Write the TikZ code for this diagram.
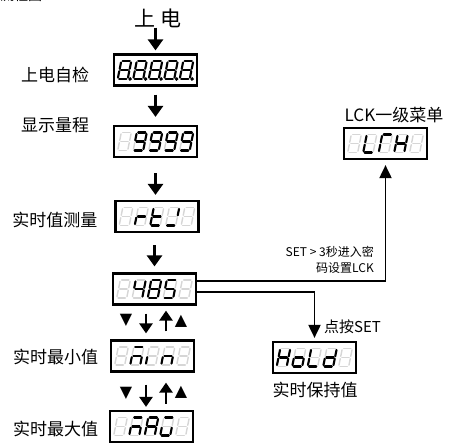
\documentclass[tikz,border=0pt]{standalone}
\usepackage{fontspec}
\setmainfont{Noto Sans CJK SC}
\newfontfamily\symfont{DejaVu Sans}
\usetikzlibrary{arrows.meta,positioning}

\tikzset{
  seg a/.style={insert path={(-3.6,-9) -- (3.6,-9)}},
  seg b/.style={insert path={(5,-7.6) -- (5,-1.2)}},
  seg c/.style={insert path={(5,1.2) -- (5,7.6)}},
  seg d/.style={insert path={(-3.6,9) -- (3.6,9)}},
  seg e/.style={insert path={(-5,1.2) -- (-5,7.6)}},
  seg f/.style={insert path={(-5,-7.6) -- (-5,-1.2)}},
  seg g/.style={insert path={(-3.6,0) -- (3.6,0)}},
  seg p/.style={insert path={(7.4,9) circle (0.5)}},
  seg none/.style={},
  seg/.style={seg #1},
  seg off/.style={draw=black!16, line width=1.4pt, line cap=round},
  seg on/.style={draw=black, line width=2.1pt, line cap=round},
  dispbox/.style={draw, line width=2.2pt, minimum width=83pt, minimum height=31pt, inner sep=0pt},
  steplabel/.style={font=\fontsize{17}{20}\selectfont, inner sep=0pt},
  notelabel/.style={font=\fontsize{12}{16}\selectfont, inner sep=0pt, align=right},
  flow/.style={line width=2.6pt, -{Triangle[width=15pt,length=11pt]}},
  updown/.style={line width=2.5pt, -{Triangle[width=13pt,length=10pt]}},
  link/.style={line width=1.9pt, -{Triangle[width=12pt,length=13pt]}},
  tri/.style={font=\symfont\fontsize{16}{16}\selectfont, inner sep=0pt},
}

% one seven segment digit: node, x offset, lit segments
\newcommand{\segdigit}[3]{%
  \begin{scope}[shift={(#1)}, shift={(#2,0)}, xslant=0.2]
    \foreach \s in {a,b,c,d,e,f,g} \draw[seg off, seg/.expand once=\s];
    \foreach \s in {#3} \draw[seg on, seg/.expand once=\s];
  \end{scope}}
\newcommand{\segrow}[6]{%
  \segdigit{#1}{-31}{#2}\segdigit{#1}{-15.5}{#3}\segdigit{#1}{0}{#4}%
  \segdigit{#1}{15.5}{#5}\segdigit{#1}{31}{#6}}

\begin{document}
\begin{tikzpicture}[x=1pt,y=-1pt]
  \useasboundingbox (0,0) rectangle (450,447);

  % cut off heading
  \node[anchor=base west, inner sep=0pt, font=\fontsize{14}{14}\selectfont] (heading) at (0,1) {流程图：};

  % main column
  \node[font=\fontsize{21}{21}\selectfont, inner sep=0pt] (pwr) at (158,18) {上 电};
  \node[dispbox] (selftest) at (155.5,70) {};
  \node[dispbox] (range) at (155.5,141.5) {};
  \node[dispbox] (rtv) at (157,216.5) {};
  \node[dispbox] (rs485) at (154.5,289) {};
  \node[dispbox] (vmin) at (152.5,356) {};
  \node[dispbox] (vmax) at (151.5,426.5) {};
  \node[dispbox] (lck) at (385.5,143.5) {};
  \node[dispbox] (hold) at (314.5,357.5) {};

  \node[steplabel] (lblselftest) at (55,75) {上电自检};
  \node[steplabel] (lblrange) at (55,125) {显示量程};
  \node[steplabel] (lblrtv) at (55,220) {实时值测量};
  \node[steplabel] (lblmin) at (55.5,357) {实时最小值};
  \node[steplabel] (lblmax) at (55.5,429) {实时最大值};
  \node[steplabel] (lbllck) at (394,115) {LCK一级菜单};
  \node[steplabel] (lblhold) at (315,390) {实时保持值};
  \node[notelabel, anchor=east] (lblset) at (374,260) {SET > 3秒进入密\\码设置LCK};
  \node[font=\fontsize{15}{15}\selectfont, inner sep=0pt, anchor=west] (lblpress) at (324,327) {点按SET};

  % digits
  \segrow{selftest}{a,b,c,d,e,f,g,p}{a,b,c,d,e,f,g,p}{a,b,c,d,e,f,g,p}{a,b,c,d,e,f,g,p}{a,b,c,d,e,f,g,p}
  \segrow{range}{none}{a,b,c,d,f,g}{a,b,c,d,f,g}{a,b,c,d,f,g}{a,b,c,d,f,g}
  \segrow{rtv}{none}{e,g}{d,e,f,g}{b,d}{none}
  \segrow{rs485}{none}{b,c,f,g}{a,b,c,d,e,f,g}{a,c,d,f,g}{none}
  \segrow{vmin}{none}{a,c,e,g}{e}{c,e,g}{none}
  \segrow{vmax}{none}{a,c,e,g}{a,b,c,e,f,g}{a,c,d,e}{none}
  \segrow{lck}{none}{d,e,f}{a,e,f}{b,c,e,f,g}{none}
  \segrow{hold}{b,c,e,f,g}{c,d,e,g}{d,e,f}{b,c,d,e,g}{none}

  % arrows down the column
  \draw[flow, shorten >=3pt] (pwr.south -| selftest) -- (selftest.north);
  \draw[flow, shorten <=8pt, shorten >=8pt] (selftest.south) -- (range.north);
  \draw[flow, shorten <=15pt, shorten >=5pt] (range.south) -- (range.south |- rtv.north);
  \draw[flow, shorten <=12pt, shorten >=6pt] (rs485.north |- rtv.south) -- (rs485.north);

  % up and down keys
  \coordinate (dn) at (146,0);
  \coordinate (up) at (166,0);
  \draw[updown, shorten <=8pt, shorten >=6pt] (dn |- rs485.south) -- (dn |- vmin.north);
  \draw[updown, shorten <=8pt, shorten >=5pt] (up |- vmin.north) -- (up |- rs485.south);
  \draw[updown, shorten <=12pt, shorten >=3pt] (dn |- vmin.south) -- (dn |- vmax.north);
  \draw[updown, shorten <=6pt, shorten >=10pt] (up |- vmax.north) -- (up |- vmin.south);
  \node[tri] (keydn1) at (126,320) {▼};
  \node[tri] (keyup1) at (181,321) {▲};
  \node[tri] (keydn2) at (126,393) {▼};
  \node[tri] (keyup2) at (181,392) {▲};

  % side branches
  \draw[link, shorten >=5pt] ([yshift=8pt]rs485.east) -| (lck.south);
  \draw[link, shorten >=3pt] ([yshift=-3pt]rs485.east) -| (hold.north);
\end{tikzpicture}
\end{document}
